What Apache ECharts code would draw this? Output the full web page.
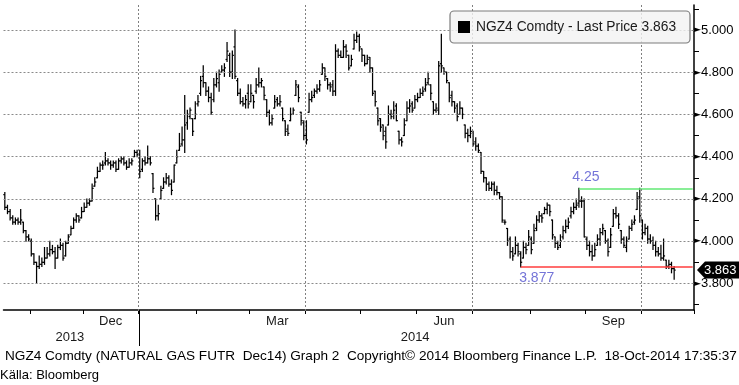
<!DOCTYPE html>
<html><head><meta charset="utf-8">
<script src="https://cdn.jsdelivr.net/npm/echarts@6/dist/echarts.min.js"></script>
<style>html,body{margin:0;padding:0;background:#fff}#c{width:739px;height:385px}</style>
</head><body><div id="c"></div>
<script>
// ---------- DATA ----------
const startDate = '2013-10-18';
const holidays = ['2013-11-28','2013-12-25','2014-01-01','2014-04-18','2014-05-26','2014-07-04','2014-09-01'];
const trailingDays = 7;
const open = [
4.22,4.16,4.14,4.11,4.09,4.10,4.09,4.09,4.05,4.02,
4.00,3.94,3.90,3.88,3.89,3.90,3.92,3.94,3.96,3.95,
3.92,3.97,3.98,3.93,3.99,4.03,4.06,4.10,4.12,4.11,
4.14,4.16,4.18,4.19,4.26,4.30,4.33,4.36,4.37,4.38,
4.37,4.36,4.37,4.34,4.38,4.39,4.37,4.35,4.37,4.40,
4.42,4.41,4.34,4.38,4.37,4.39,4.32,4.20,4.12,4.20,
4.25,4.28,4.30,4.27,4.28,4.37,4.43,4.46,4.48,4.56,
4.59,4.58,4.58,4.65,4.70,4.78,4.75,4.71,4.68,4.67,
4.74,4.75,4.80,4.81,4.86,4.88,4.80,4.92,4.76,4.70,
4.66,4.65,4.70,4.66,4.69,4.71,4.74,4.75,4.73,4.67,
4.61,4.56,4.63,4.67,4.65,4.63,4.57,4.53,4.57,4.60,
4.69,4.73,4.61,4.56,4.50,4.61,4.67,4.69,4.71,4.72,
4.79,4.82,4.77,4.74,4.74,4.71,4.90,4.88,4.87,4.92,
4.88,4.83,4.91,4.95,4.97,4.91,4.88,4.84,4.87,4.82,
4.71,4.63,4.58,4.55,4.52,4.55,4.60,4.60,4.64,4.52,
4.48,4.50,4.57,4.63,4.65,4.63,4.67,4.68,4.70,4.72,
4.75,4.74,4.66,4.62,4.62,4.84,4.82,4.80,4.75,4.69,
4.66,4.64,4.60,4.63,4.55,4.51,4.50,4.51,4.47,4.45,
4.42,4.33,4.30,4.27,4.25,4.27,4.24,4.23,4.21,4.09,
4.06,4.01,3.95,3.94,3.98,3.94,3.92,3.97,3.98,4.01,
3.99,4.06,4.10,4.12,4.13,4.15,4.17,4.10,4.02,3.99,
3.98,4.02,4.05,4.07,4.12,4.14,4.16,4.18,4.19,4.19,
4.01,3.98,3.95,3.93,3.98,4.01,4.04,4.05,4.00,3.97,
4.07,4.13,4.12,4.05,4.01,3.97,4.01,4.06,4.09,4.15,
4.21,4.10,4.04,4.06,4.01,4.00,3.98,3.95,3.94,3.92,
3.91,3.88,3.89,3.87];
const high = [
4.23,4.17,4.15,4.12,4.11,4.11,4.15,4.09,4.05,4.03,
4.01,3.94,3.90,3.93,3.92,3.97,3.97,4.00,3.98,3.97,
3.98,4.01,3.99,4.00,4.03,4.07,4.11,4.13,4.12,4.16,
4.18,4.20,4.20,4.27,4.30,4.35,4.37,4.38,4.42,4.39,
4.38,4.38,4.38,4.39,4.40,4.40,4.38,4.39,4.39,4.43,
4.43,4.43,4.39,4.40,4.45,4.40,4.32,4.20,4.17,4.26,
4.30,4.32,4.31,4.29,4.36,4.43,4.51,4.54,4.69,4.62,
4.63,4.58,4.66,4.69,4.78,4.83,4.75,4.73,4.70,4.77,
4.80,4.81,4.83,4.84,4.94,4.89,4.90,5.00,4.77,4.72,
4.68,4.69,4.74,4.74,4.69,4.77,4.82,4.77,4.73,4.67,
4.62,4.60,4.69,4.68,4.69,4.63,4.57,4.55,4.63,4.63,
4.76,4.74,4.61,4.57,4.57,4.70,4.71,4.72,4.74,4.76,
4.84,4.82,4.77,4.75,4.76,4.93,4.91,4.90,4.95,4.93,
4.88,4.88,4.98,4.99,4.98,4.91,4.88,4.88,4.87,4.82,
4.71,4.63,4.58,4.55,4.54,4.64,4.62,4.66,4.65,4.52,
4.49,4.58,4.66,4.67,4.66,4.69,4.70,4.72,4.73,4.77,
4.80,4.74,4.66,4.65,4.85,4.98,4.82,4.80,4.75,4.71,
4.66,4.65,4.66,4.63,4.55,4.53,4.54,4.52,4.49,4.46,
4.42,4.33,4.30,4.28,4.28,4.28,4.26,4.23,4.21,4.10,
4.06,4.02,3.97,4.02,3.99,3.95,4.00,3.99,4.05,4.02,
4.08,4.12,4.14,4.13,4.16,4.18,4.17,4.10,4.02,4.00,
4.03,4.07,4.10,4.11,4.16,4.18,4.20,4.25,4.21,4.20,
4.02,4.00,3.98,3.99,4.03,4.06,4.08,4.05,4.01,4.06,
4.15,4.16,4.13,4.05,4.02,4.02,4.07,4.10,4.12,4.23,
4.25,4.10,4.08,4.07,4.03,4.02,4.00,3.97,3.98,4.01,
3.91,3.91,3.90,3.88];
const low = [
4.15,4.13,4.10,4.08,4.08,4.08,4.08,4.04,4.00,4.00,
3.93,3.89,3.80,3.87,3.88,3.89,3.92,3.93,3.94,3.87,
3.92,3.96,3.91,3.93,3.99,4.03,4.06,4.09,4.09,4.11,
4.14,4.16,4.17,4.19,4.26,4.30,4.33,4.34,4.36,4.36,
4.34,4.35,4.33,4.34,4.37,4.36,4.34,4.35,4.36,4.40,
4.40,4.30,4.33,4.36,4.37,4.36,4.23,4.10,4.10,4.20,
4.25,4.27,4.26,4.22,4.28,4.37,4.43,4.45,4.42,4.53,
4.58,4.50,4.58,4.64,4.69,4.73,4.69,4.66,4.60,4.66,
4.73,4.71,4.80,4.78,4.85,4.78,4.77,4.77,4.69,4.65,
4.64,4.63,4.63,4.66,4.63,4.70,4.73,4.73,4.67,4.59,
4.55,4.55,4.63,4.64,4.64,4.57,4.50,4.50,4.57,4.60,
4.69,4.66,4.55,4.48,4.46,4.61,4.66,4.68,4.70,4.71,
4.79,4.76,4.72,4.71,4.69,4.69,4.87,4.87,4.87,4.87,
4.81,4.83,4.91,4.94,4.90,4.85,4.83,4.84,4.80,4.69,
4.64,4.55,4.52,4.48,4.44,4.55,4.58,4.58,4.57,4.46,
4.45,4.50,4.57,4.61,4.61,4.63,4.66,4.68,4.69,4.71,
4.74,4.67,4.60,4.61,4.60,4.80,4.79,4.75,4.66,4.64,
4.61,4.57,4.60,4.58,4.49,4.47,4.49,4.45,4.43,4.42,
4.32,4.28,4.24,4.24,4.24,4.22,4.22,4.20,4.09,4.08,
3.98,3.92,3.91,3.94,3.93,3.877,3.92,3.94,3.98,3.94,
3.99,4.05,4.09,4.09,4.13,4.13,4.12,4.01,3.97,3.96,
3.97,4.01,4.04,4.06,4.11,4.13,4.15,4.16,4.16,4.02,
3.96,3.93,3.91,3.93,3.98,3.98,4.03,3.99,3.93,3.97,
4.07,4.11,4.06,3.99,3.97,3.95,4.01,4.05,4.08,4.15,
4.09,4.01,4.03,3.99,3.99,3.96,3.93,3.93,3.91,3.91,
3.87,3.87,3.85,3.82];
const close = [
4.16,4.14,4.11,4.09,4.10,4.09,4.10,4.05,4.02,4.01,
3.94,3.90,3.88,3.89,3.90,3.92,3.94,3.96,3.95,3.92,
3.97,3.98,3.92,3.99,4.02,4.06,4.10,4.12,4.10,4.14,
4.16,4.18,4.19,4.25,4.28,4.33,4.36,4.36,4.38,4.37,
4.36,4.37,4.34,4.38,4.39,4.37,4.35,4.37,4.38,4.42,
4.41,4.33,4.38,4.37,4.39,4.37,4.25,4.12,4.13,4.24,
4.28,4.30,4.27,4.24,4.36,4.40,4.45,4.48,4.55,4.60,
4.62,4.52,4.60,4.66,4.76,4.75,4.71,4.68,4.61,4.74,
4.77,4.79,4.81,4.82,4.90,4.80,4.88,4.78,4.70,4.66,
4.65,4.67,4.65,4.70,4.66,4.74,4.75,4.76,4.69,4.61,
4.56,4.58,4.66,4.65,4.66,4.58,4.52,4.51,4.60,4.62,
4.74,4.68,4.57,4.50,4.48,4.67,4.68,4.71,4.72,4.74,
4.82,4.78,4.74,4.73,4.71,4.90,4.88,4.87,4.92,4.90,
4.82,4.86,4.95,4.97,4.92,4.88,4.84,4.86,4.82,4.70,
4.66,4.57,4.54,4.50,4.47,4.60,4.59,4.62,4.57,4.48,
4.47,4.55,4.63,4.64,4.62,4.67,4.68,4.70,4.71,4.74,
4.77,4.70,4.62,4.63,4.83,4.83,4.80,4.76,4.68,4.66,
4.63,4.59,4.63,4.60,4.51,4.50,4.52,4.46,4.45,4.43,
4.33,4.30,4.27,4.25,4.27,4.24,4.23,4.21,4.10,4.09,
4.00,3.95,3.93,3.98,3.95,3.90,3.97,3.96,4.02,3.96,
4.05,4.10,4.12,4.11,4.15,4.17,4.14,4.03,3.99,3.97,
4.00,4.05,4.07,4.09,4.14,4.16,4.17,4.19,4.19,4.02,
3.98,3.95,3.93,3.96,4.01,4.04,4.06,4.00,3.95,4.03,
4.13,4.12,4.08,4.01,3.98,4.00,4.06,4.08,4.10,4.20,
4.12,4.04,4.06,4.01,4.00,3.98,3.95,3.94,3.92,3.93,
3.88,3.89,3.87,3.863];
const yTicks = [3.8, 4.0, 4.2, 4.4, 4.6, 4.8, 5.0];
const yMinorTicks = [3.7, 3.9, 4.1, 4.3, 4.5, 4.7, 4.9, 5.1];
const monthNames = ['Jan','Feb','Mar','Apr','May','Jun','Jul','Aug','Sep','Oct','Nov','Dec'];
const labelMonths = [11, 2, 5, 8];      // Dec, Mar, Jun, Sep
const gridMonths = [0, 3, 6, 9];        // Jan, Apr, Jul, Oct
const highLevel = 4.25, highLevelDate = '2014-08-27';
const lowLevel = 3.877, lowLevelDate = '2014-07-28';
const lastPrice = 3.863;
const legendText = 'NGZ4 Comdty - Last Price 3.863';
const footerText = 'NGZ4 Comdty (NATURAL GAS FUTR  Dec14) Graph 2  Copyright\u00A9 2014 Bloomberg Finance L.P.  18-Oct-2014 17:35:37';
const sourceText = 'K\u00E4lla: Bloomberg';

// ---------- CALENDAR (trading days) ----------
const dates = [];
(function(){
  const d = new Date(startDate + 'T00:00:00Z');
  while (dates.length < open.length + trailingDays) {
    const w = d.getUTCDay(), s = d.toISOString().slice(0, 10);
    if (w !== 0 && w !== 6 && holidays.indexOf(s) < 0) dates.push(s);
    d.setUTCDate(d.getUTCDate() + 1);
  }
})();
const monthOf = s => +s.slice(5, 7) - 1;
const isMonthStart = i => i > 0 && dates[i].slice(0, 7) !== dates[i - 1].slice(0, 7);
const isYearStart = i => i > 0 && dates[i].slice(0, 4) !== dates[i - 1].slice(0, 4);
const monthMid = {};
(function(){
  let s = 0;
  for (let i = 1; i <= dates.length; i++) {
    if (i === dates.length || isMonthStart(i)) { monthMid[Math.floor((s + i - 1) / 2)] = monthOf(dates[s]); s = i; }
  }
})();
const yearMid = {};
(function(){
  let s = 0;
  for (let i = 1; i <= dates.length; i++) {
    if (i === dates.length || isYearStart(i)) { yearMid[Math.floor((s + i - 1) / 2)] = dates[s].slice(0, 4); s = i; }
  }
})();
const gridStarts = [];
dates.forEach((d, i) => { if (isMonthStart(i) && gridMonths.indexOf(monthOf(d)) >= 0) gridStarts.push(i); });
const lastCat = dates[dates.length - 1];

const FONT = 'Liberation Sans';
const GRID = { color: '#8a8a8a', type: [2, 2], width: 1 };
const ohlc = open.map((o, i) => [i, o, high[i], low[i], close[i]]);

const chart = echarts.init(document.getElementById('c'));
chart.setOption({
  animation: false,
  backgroundColor: '#fff',
  grid: { left: 3.5, right: 45, top: 5, bottom: 75 },
  xAxis: [{
    type: 'category', data: dates, boundaryGap: true,
    axisLine: { show: true, lineStyle: { color: '#000', width: 1.5 } },
    axisTick: { show: true, length: 4, lineStyle: { color: '#000' }, interval: (i) => isMonthStart(i) },
    axisLabel: { interval: (i) => monthMid[i] !== undefined && labelMonths.indexOf(monthMid[i]) >= 0,
      formatter: (v) => monthNames[monthOf(v)], color: '#1a1a1a', fontSize: 13, fontFamily: FONT, margin: 5 },
    splitLine: { show: false }
  }, {
    type: 'category', data: dates, boundaryGap: false, position: 'bottom',
    axisLine: { show: false },
    axisTick: { show: true, length: 36, lineStyle: { color: '#000' }, interval: (i) => isYearStart(i) },
    axisLabel: { interval: (i) => yearMid[i] !== undefined, formatter: (v) => v.slice(0, 4), color: '#1a1a1a', fontSize: 13, fontFamily: FONT, margin: 21 },
    splitLine: { show: false }
  }],
  yAxis: [{
    type: 'value', position: 'right', min: 3.674, max: 5.118, scale: true,
    axisLine: { show: true, lineStyle: { color: '#000', width: 1.5 } },
    axisTick: { show: false, customValues: yTicks },
    axisLabel: { customValues: yTicks, margin: 0,
      formatter: (v) => '{t|\u25BA}{v|' + v.toFixed(3) + '}',
      rich: { t: { fontSize: 9, color: '#000', fontFamily: 'DejaVu Sans' }, v: { fontSize: 13, color: '#000', fontFamily: FONT } } },
    splitLine: { show: false }
  }, {
    type: 'value', position: 'right', min: 3.674, max: 5.118, scale: true,
    axisLine: { show: false },
    axisTick: { show: true, length: 5, customValues: yMinorTicks, lineStyle: { color: '#000' } },
    axisLabel: { show: false }, splitLine: { show: false }
  }],
  series: [{
    type: 'custom', name: 'NGZ4', xAxisIndex: 0, yAxisIndex: 0, z: 3,
    data: ohlc, encode: { x: 0, y: [1, 2, 3, 4] },
    renderItem: function (params, api) {
      const i = api.value(0);
      const pO = api.coord([i, api.value(1)]), pH = api.coord([i, api.value(2)]),
            pL = api.coord([i, api.value(3)]), pC = api.coord([i, api.value(4)]);
      const x = pH[0], st = { stroke: '#000', lineWidth: 1.25 };
      return { type: 'group', children: [
        { type: 'line', shape: { x1: x, y1: pH[1] - 0.5, x2: x, y2: pL[1] + 0.5 }, style: st },
        { type: 'line', shape: { x1: x - 1.5, y1: pO[1], x2: x, y2: pO[1] }, style: st },
        { type: 'line', shape: { x1: x, y1: pC[1], x2: x + 1.5, y2: pC[1] }, style: st }
      ] };
    },
    markLine: {
      silent: true, symbol: ['none', 'none'], label: { show: false },
      data: yTicks.map(v => ({ yAxis: v, lineStyle: GRID })).concat([
          [{ coord: [highLevelDate, highLevel], lineStyle: { color: '#62e874', width: 1.6, type: 'solid' } }, { coord: [lastCat, highLevel] }],
          [{ coord: [lowLevelDate, lowLevel], lineStyle: { color: '#ff3c3c', width: 1.6, type: 'solid' } }, { coord: [lastCat, lowLevel] }]
        ])
    },
    markPoint: {
      silent: true, symbol: 'circle', symbolSize: 0,
      data: [
        { coord: [highLevelDate, highLevel], label: { show: true, position: 'top', distance: 4, offset: [7, 0], formatter: '4.25', color: '#7474d8', fontSize: 14, fontFamily: FONT } },
        { coord: [lowLevelDate, lowLevel], label: { show: true, position: 'bottom', distance: 4, offset: [16, 0], formatter: '3.877', color: '#7474d8', fontSize: 14, fontFamily: FONT } }
      ]
    }
  }]
});

// positions from the library's scales
const py = chart.convertToPixel({ yAxisIndex: 0 }, lastPrice);
const yTop = chart.convertToPixel({ yAxisIndex: 0 }, 5.118);
const yBot = chart.convertToPixel({ yAxisIndex: 0 }, 3.674);
const band = chart.convertToPixel({ xAxisIndex: 0 }, dates[1]) - chart.convertToPixel({ xAxisIndex: 0 }, dates[0]);
const vLines = [];
gridStarts.forEach(i => {
  const x = Math.round(chart.convertToPixel({ xAxisIndex: 0 }, dates[i]) - band / 2);
  // dotted vertical gridline built from short dashes (2px on, 2px off)
  for (let y = Math.ceil(yTop); y < yBot; y += 4) {
    vLines.push({ type: 'rect', shape: { x: x, y: y, width: 1, height: 2 }, style: { fill: '#808080' }, z: 5, silent: true });
  }
});
chart.setOption({
  graphic: vLines.concat([
    { type: 'rect', shape: { x: 450, y: 11, width: 240, height: 32, r: 4 }, style: { fill: 'rgba(242,242,242,0.8)', stroke: '#7c7c7c', lineWidth: 1.2 }, z: 10 },
    { type: 'rect', shape: { x: 458, y: 21, width: 12, height: 12 }, style: { fill: '#000' }, z: 11 },
    { type: 'text', x: 476, y: 27.5, style: { text: legendText, fontSize: 13.8, fontFamily: FONT, fill: '#1a1a1a', verticalAlign: 'middle' }, z: 11 },
    { type: 'polygon', shape: { points: [[697, py], [705, py - 8.5], [739, py - 8.5], [739, py + 8.5], [705, py + 8.5]] }, style: { fill: '#000' }, z: 12 },
    { type: 'text', x: 704, y: py + 0.5, style: { text: lastPrice.toFixed(3), fontSize: 13, fontFamily: FONT, fill: '#fff', verticalAlign: 'middle' }, z: 13 },
    { type: 'text', x: 5, y: 356, style: { text: footerText, fontSize: 13.6, fontFamily: FONT, fill: '#000', verticalAlign: 'middle' } },
    { type: 'text', x: 0, y: 375, style: { text: sourceText, fontSize: 13, fontFamily: FONT, fill: '#000', verticalAlign: 'middle' } }
  ])
});
</script></body></html>
